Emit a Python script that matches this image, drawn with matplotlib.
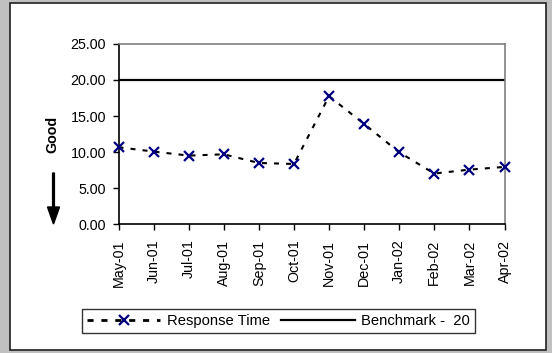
import matplotlib
matplotlib.use("Agg")
import matplotlib.pyplot as plt
from matplotlib.patches import Rectangle, FancyArrow
from matplotlib.lines import Line2D

months = ["May-01", "Jun-01", "Jul-01", "Aug-01", "Sep-01", "Oct-01",
          "Nov-01", "Dec-01", "Jan-02", "Feb-02", "Mar-02", "Apr-02"]
response_time = [10.68, 10.08, 9.52, 9.70, 8.50, 8.36,
                 17.75, 13.90, 9.98, 7.03, 7.58, 7.95]
benchmark = 20
yticks = [0, 5, 10, 15, 20, 25]

plt.rcParams['font.family'] = ['Liberation Sans', 'DejaVu Sans']

W, H = 552, 353
fig = plt.figure(figsize=(W / 100, H / 100), dpi=100)
fig.patch.set_facecolor('#c0c0c0')

# white chart area with border
fig.patches.append(Rectangle((10 / W, 1 - 350 / H), (546 - 10) / W, (350 - 3) / H,
                             transform=fig.transFigure, facecolor='white',
                             edgecolor='#202020', linewidth=1.2, zorder=-10))

left, right, top, bottom = 118.5, 504.5, 43.9, 224.3
ax = fig.add_axes([left / W, 1 - bottom / H, (right - left) / W, (bottom - top) / H])
ax.set_zorder(1)
ax.set_facecolor('white')

FS = 10.3
x = list(range(len(months)))
ax.plot(x, response_time, color='black', linestyle=(0, (2.4, 3.4)), linewidth=1.5,
        zorder=2)
ax.plot(x, response_time, linestyle='none', marker='x', color='#000080',
        markersize=7, markeredgewidth=1.6, zorder=3, clip_on=False)
ax.axhline(benchmark, color='black', linewidth=1.6, zorder=2)

ax.set_xlim(0, len(months) - 1)
ax.set_ylim(0, 25)
ax.set_yticks(yticks)
ax.set_yticklabels([f"{v:.2f}" for v in yticks], fontsize=FS)
ax.set_xticks(x)
ax.set_xticklabels(months, rotation=90, fontsize=FS)
ax.tick_params(axis='both', direction='out', length=4, width=1, color='black')
ax.tick_params(axis='y', pad=5)
ax.tick_params(axis='x', pad=7)

for s in ['left', 'bottom']:
    ax.spines[s].set_color('black')
    ax.spines[s].set_linewidth(1.2)
for s in ['top', 'right']:
    ax.spines[s].set_color('#808080')
    ax.spines[s].set_linewidth(1.2)

# "Good" label and arrow
fig.text(52 / W, 1 - 134 / H, "Good", rotation=90, fontsize=FS, fontweight='bold',
         ha='center', va='center')
fig.patches.append(FancyArrow(53.5 / W, 1 - 173 / H, 0, -(51 / H), width=1.8 / W,
                              head_width=12 / W, head_length=17 / H,
                              length_includes_head=True, transform=fig.transFigure,
                              color='black'))

# legend
handles = [Line2D([], [], color='black', linestyle=(0, (2.2, 2.8)), linewidth=2.0,
                  marker='x', markeredgecolor='#000080', markersize=7,
                  markeredgewidth=1.6),
           Line2D([], [], color='black', linewidth=1.6)]
leg = fig.legend(handles, ["Response Time", "Benchmark -  20"], ncol=2,
                 loc='center', bbox_to_anchor=(278.5 / W, 1 - 321 / H),
                 fontsize=10.6, frameon=True, fancybox=False, handlelength=5.0,
                 handletextpad=0.45, columnspacing=0.75, borderpad=0.35,
                 borderaxespad=0)
leg.get_frame().set_edgecolor('black')
leg.get_frame().set_linewidth(1.0)

fig.savefig("out.png", dpi=100, facecolor=fig.get_facecolor())
